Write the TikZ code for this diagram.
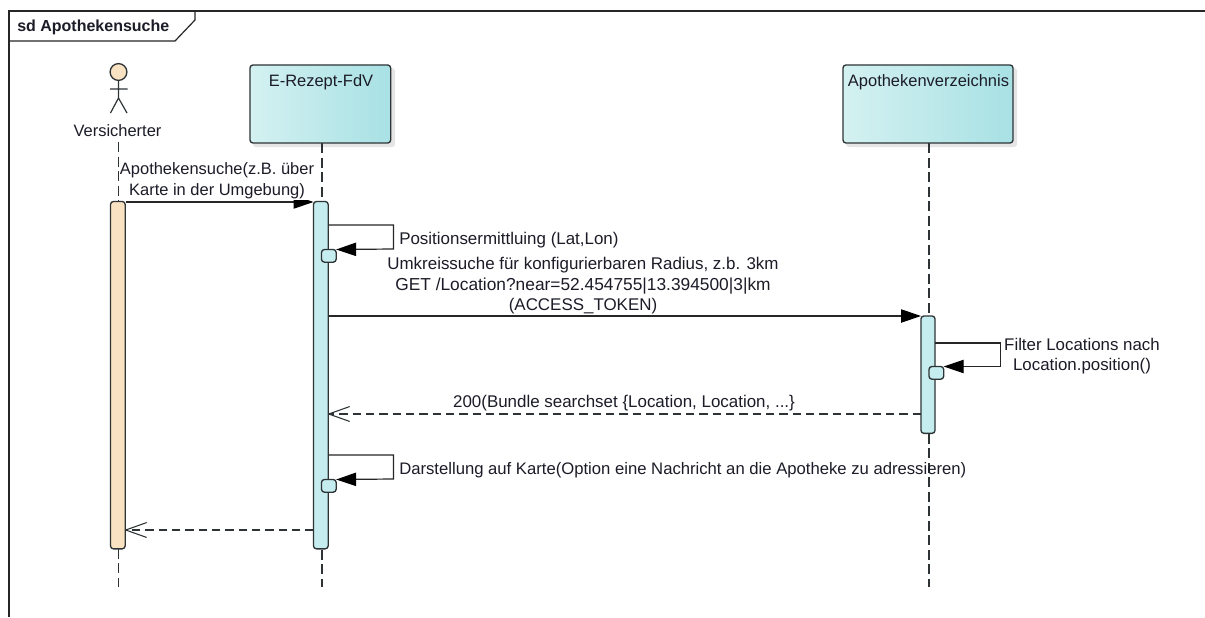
\documentclass[tikz,border=0pt]{standalone}
\usepackage{fontspec}
\setmainfont{Liberation Sans}
\usetikzlibrary{arrows.meta,calc}
\definecolor{edgec}{HTML}{2E3436}
\definecolor{actc}{HTML}{C5ECEE}
\definecolor{actor}{HTML}{F9E2C2}
\definecolor{txtc}{HTML}{1C1C28}
\definecolor{Bgrad}{HTML}{A8E1E4}
\definecolor{Agrad}{HTML}{D4F1F1}
\newcommand{\fsz}[1]{\fontsize{#1}{15.4}\selectfont}
\tikzset{
  x=0.75pt,y=-0.75pt,
  line/.style={draw=edgec,line width=0.9pt},
  life/.style={draw=edgec,line width=0.85pt,dash pattern=on 7.5pt off 3.4pt},
  participant/.style={rectangle,rounded corners=2.2pt,draw=edgec,line width=1pt,left color=Agrad,right color=Bgrad,minimum height=58.5pt,anchor=north west,inner sep=0pt,outer sep=0pt},
  shade1/.style={fill=black!10,rounded corners=2.2pt,draw=none},
  actbar/.style={rectangle,rounded corners=2.2pt,draw=edgec,line width=1pt,fill=#1,anchor=north west,inner sep=0pt,outer sep=0pt,minimum width=11pt},
  msg/.style={line width=0.9pt,draw=black!85,-{Triangle[black,length=15pt,width=10pt]}},
  selfm/.style={line width=0.9pt,draw=black!85,-{Triangle[black,length=15pt,width=10pt]}},
  retm/.style={line width=0.9pt,draw=edgec,dash pattern=on 6.2pt off 3.8pt,-{Straight Barb[length=15.5pt,width=11pt,line width=0.8pt,round,sep=0pt]}},
  label/.style={font=\fsz{12.35},text=txtc,inner sep=0pt,align=center},
}
\begin{document}
\begin{tikzpicture}
\useasboundingbox (0,0) rectangle (1205,617);
\fill[white] (0,0) rectangle (1205,617);
% frame
\coordinate (fBL) at (9,617);
\coordinate (fTL) at (9,11);
\coordinate (fTR) at (1205,11);
\coordinate (tabA) at (195,11);
\coordinate (tabB) at (195,20);
\coordinate (tabC) at (175,41);
\coordinate (tabD) at (9,41);
\draw[draw=black!85,line width=0.9pt] (fBL) -- (fTL) -- (fTR);
\draw[draw=black!85,line width=0.9pt] (tabA) -- (tabB) -- (tabC) -- (tabD);
\node[font=\fontsize{12}{14}\bfseries\selectfont,text=txtc,inner sep=0pt,anchor=base west] (title) at (17,32) {sd Apothekensuche};
% participant shadows
\fill[shade1] (253,68) rectangle (395,147);
\fill[shade1] (846,68) rectangle (1017,147);
% lifelines
\coordinate (vTop) at (118.5,142);
\coordinate (vBot) at (118.5,587);
\coordinate (eBot) at (322,587);
\coordinate (aBot) at (929,587);
\node[participant,minimum width=105.5pt] (erez) at (250,65) {};
\node[participant,minimum width=127.5pt] (apoth) at (843,65) {};
\node[label,anchor=base] (erezt) at (321,86.5) {E-Rezept-FdV};
\node[label,anchor=base] (apotht) at (928.5,86.5) {Apothekenverzeichnis};
\draw[life] (vTop) -- (vBot);
\draw[life] (erez.south -| eBot) -- (eBot);
\draw[life] (apoth.south -| aBot) -- (aBot);
% actor
\node[circle,draw=edgec,line width=1pt,fill=actor,minimum size=12.6pt,inner sep=0pt,outer sep=0pt] (head) at (118.5,72) {};
\coordinate (hip) at (118.5,98);
\coordinate (armL) at (110,89);
\coordinate (armR) at (127.5,89);
\coordinate (legL) at (110.5,113);
\coordinate (legR) at (127,113);
\draw[line] (head.south) -- (hip) (armL) -- (armR) (legL) -- (hip) -- (legR);
\node[label,anchor=base,fill=white,inner ysep=2pt] (vers) at (117.5,136) {Versicherter};
% activations
\node[actbar=actor,minimum height=260.5pt,minimum width=11pt] (av) at (110.5,201.5) {};
\node[actbar=actc,minimum height=260.5pt] (ae) at (313.5,201.5) {};
\node[actbar=actc,minimum height=88pt,minimum width=10.5pt] (aa) at (921,316) {};
% nested
\node[actbar=actc,minimum height=9.5pt] (n1) at (321.5,249.5) {};
\node[actbar=actc,minimum height=9.5pt] (n3) at (321.5,479.5) {};
\node[actbar=actc,minimum height=9.5pt] (n2) at (929,366.5) {};
% messages
\coordinate (m1) at (125.5,202);
\draw[msg] (m1) -- (m1 -| ae.west);
\coordinate (s1) at (328.5,225);
\coordinate (s1b) at (393.5,249);
\draw[selfm] (s1) -- (s1 -| s1b) -- (s1b) -- (n1.north east);
\coordinate (m2) at (328.5,316);
\draw[msg] (m2) -- (aa.north west);
\coordinate (s2) at (935,343);
\coordinate (s2b) at (1000.5,366.5);
\draw[selfm] (s2) -- (s2 -| s2b) -- (s2b) -- (n2.north east);
\coordinate (r1) at (921,414);
\draw[retm] (r1) -- (r1 -| ae.east);
\coordinate (s3) at (328.5,455);
\coordinate (s3b) at (393.5,479);
\draw[selfm] (s3) -- (s3 -| s3b) -- (s3b) -- (n3.north east);
\coordinate (r2) at (313.5,530);
\draw[retm] (r2) -- (r2 -| av.east);
% labels
\node[label,fill=white,inner ysep=0.6pt] (l1) at (217,181) {Apothekensuche(z.B. über\\Karte in der Umgebung)};
\node[label,anchor=base west,font=\fsz{12.7}] (l2) at (399,244) {Positionsermittluing (Lat,Lon)};
\node[label,font=\fsz{12.7}] (l3) at (583,286) {Umkreissuche für konfigurierbaren Radius, z.b. 3km\\{\fsz{13}GET /Location?near=52.454755|13.394500|3|km}\\(ACCESS\_TOKEN)};
\node[label,font=\fsz{12.65}] (l4) at (1082,356) {Filter Locations nach\\Location.position()};
\node[label,anchor=base,font=\fsz{12.7}] (l5) at (624,407) {200(Bundle searchset \{Location, Location, ...\}};
\node[label,anchor=base west,font=\fsz{12.5}] (l6) at (399,474) {Darstellung auf Karte(Option eine Nachricht an die Apotheke zu adressieren)};
\end{tikzpicture}
\end{document}
